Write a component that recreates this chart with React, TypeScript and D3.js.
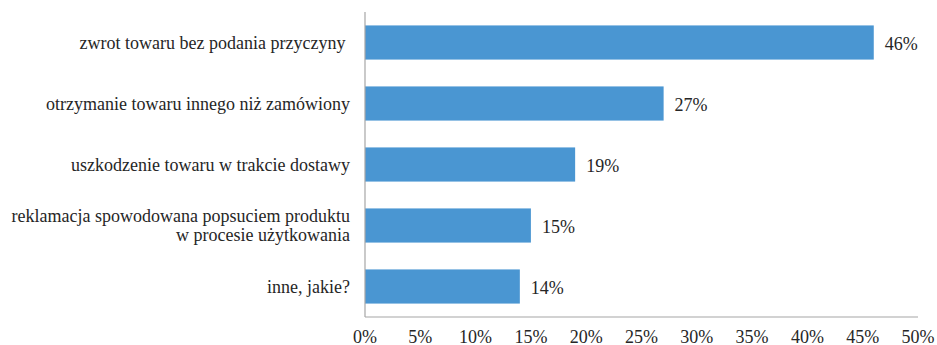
import React from "react";
import * as d3 from "d3";

const categories: string[][] = [
  ["zwrot towaru bez podania przyczyny "],
  ["otrzymanie towaru innego niż zamówiony"],
  ["uszkodzenie towaru w trakcie dostawy"],
  ["reklamacja spowodowana popsuciem produktu", "w procesie użytkowania"],
  ["inne, jakie?"],
];
const values: number[] = [46, 27, 19, 15, 14];
const ticks: number[] = [0, 5, 10, 15, 20, 25, 30, 35, 40, 45, 50];

const W = 937;
const H = 345;
const left = 365;
const right = 918;
const top = 12;
const bottom = 317;
const font = "'Liberation Serif', 'Times New Roman', serif";

export default function App() {
  const x = d3.scaleLinear().domain([0, 50]).range([left, right]);
  const y = d3
    .scaleBand<number>()
    .domain(d3.range(values.length))
    .range([top, bottom])
    .paddingInner(0.44)
    .paddingOuter(0.22);
  const bw = y.bandwidth();
  const txt = { fontFamily: font, whiteSpace: "pre" as const };
  return (
    <svg
      width={W}
      height={H}
      style={{ position: "absolute", left: 0, top: 0, background: "#fff", fontFamily: font }}
    >
      {values.map((v, i) => (
        <rect
          key={i}
          x={x(0)}
          y={y(i)!}
          width={x(v) - x(0)}
          height={bw}
          fill="#4a96d2"
        />
      ))}
      {values.map((v, i) => (
        <text
          key={"v" + i}
          x={x(v) + 11}
          y={y(i)! + bw / 2 + 1}
          dy="0.35em"
          fontSize={18}
          fill="#262626"
          style={txt}
        >
          {v}%
        </text>
      ))}
      {categories.map((lines, i) => (
        <text
          key={"c" + i}
          x={left - 15}
          y={y(i)! + bw / 2}
          textAnchor="end"
          fontSize={18}
          fill="#262626"
          style={txt}
        >
          {lines.map((l, j) => (
            <tspan
              key={j}
              x={left - 15}
              dy={j === 0 ? `${0.35 - (lines.length - 1) * 0.53}em` : "1.06em"}
            >
              {l}
            </tspan>
          ))}
        </text>
      ))}
      <line x1={left} x2={left} y1={top} y2={bottom} stroke="#a6a6a6" strokeWidth={1.2} />
      <line x1={left} x2={right} y1={bottom} y2={bottom} stroke="#a6a6a6" strokeWidth={1.2} />
      {ticks.map((t) => (
        <text
          key={"t" + t}
          x={x(t)}
          y={343}
          textAnchor="middle"
          fontSize={18}
          fill="#262626"
          style={txt}
        >
          {t}%
        </text>
      ))}
    </svg>
  );
}
